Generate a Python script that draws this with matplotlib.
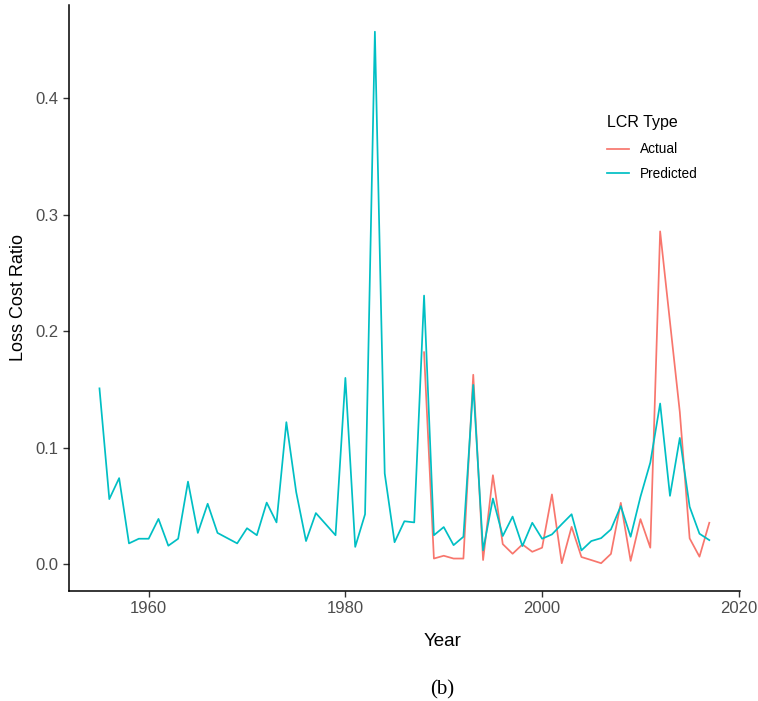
import numpy as np
import matplotlib.pyplot as plt

plt.rcParams['font.family'] = ['Liberation Sans', 'DejaVu Sans']

# Прогнозні значення LCR, 1955-2017
years_pred = np.arange(1955, 2018)
lcr_pred = [0.151, 0.056, 0.074, 0.018, 0.022, 0.022, 0.039, 0.016, 0.022, 0.071,
            0.027, 0.052, 0.027, 0.0225, 0.018, 0.031, 0.025, 0.053, 0.036, 0.122,
            0.062, 0.020, 0.044, 0.0345, 0.025, 0.160, 0.015, 0.043, 0.457, 0.078,
            0.019, 0.037, 0.036, 0.2306, 0.025, 0.032, 0.0165, 0.0237, 0.154, 0.012,
            0.0565, 0.0243, 0.041, 0.0157, 0.0357, 0.022, 0.0257, 0.0345, 0.043, 0.012,
            0.020, 0.0225, 0.030, 0.050, 0.0237, 0.058, 0.0873, 0.138, 0.0588, 0.1085,
            0.0494, 0.0263, 0.0208]

# Фактичні значення LCR, 1988-2017
years_act = np.arange(1988, 2018)
lcr_act = [0.182, 0.005, 0.0074, 0.005, 0.005, 0.1627, 0.0037, 0.0765, 0.0174, 0.0091,
           0.0171, 0.0108, 0.0143, 0.060, 0.001, 0.0322, 0.0063, 0.0037, 0.001, 0.009,
           0.0528, 0.003, 0.0388, 0.0143, 0.2857, 0.208, 0.1307, 0.0223, 0.0066, 0.0357]

x_ticks = [1960, 1980, 2000, 2020]
y_ticks = [0.0, 0.1, 0.2, 0.3, 0.4]

fig = plt.figure(figsize=(7.58, 7.01), dpi=100)
ax = fig.add_axes([0.091, 0.157, 0.885, 0.836])

ax.plot(years_act, lcr_act, color='#F8766D', lw=1.25, label='Actual')
ax.plot(years_pred, lcr_pred, color='#00BFC4', lw=1.25, label='Predicted')

ax.set_xlim(1951.9, 2020.1)
ax.set_ylim(-0.0228, 0.48)
ax.set_xticks(x_ticks)
ax.set_yticks(y_ticks)
ax.set_yticklabels([f'{v:.1f}' for v in y_ticks])

for side in ['top', 'right']:
    ax.spines[side].set_visible(False)
for side in ['left', 'bottom']:
    ax.spines[side].set_linewidth(1.1)
    ax.spines[side].set_color('black')
ax.tick_params(colors='#333333', labelcolor='#4d4d4d', labelsize=12,
               length=4, width=1.0)

ax.set_xlabel('Year', fontsize=13.5)
ax.xaxis.set_label_coords(0.557, -0.072)
ax.set_ylabel('Loss Cost Ratio', fontsize=13, labelpad=6)

leg = ax.legend(title='LCR Type', loc='upper left', bbox_to_anchor=(0.784, 0.833),
                frameon=False, fontsize=9.8, title_fontsize=11.5,
                handlelength=1.6, handletextpad=0.8, labelspacing=0.75)
leg._legend_box.align = 'left'
leg._legend_box.sep += 1.5  # трохи більший відступ під заголовком

fig.text(0.583, 0.016, '(b)', ha='center', va='center', fontsize=15,
         family=['Liberation Serif', 'DejaVu Serif'])

fig.savefig('out.png', dpi=100)
